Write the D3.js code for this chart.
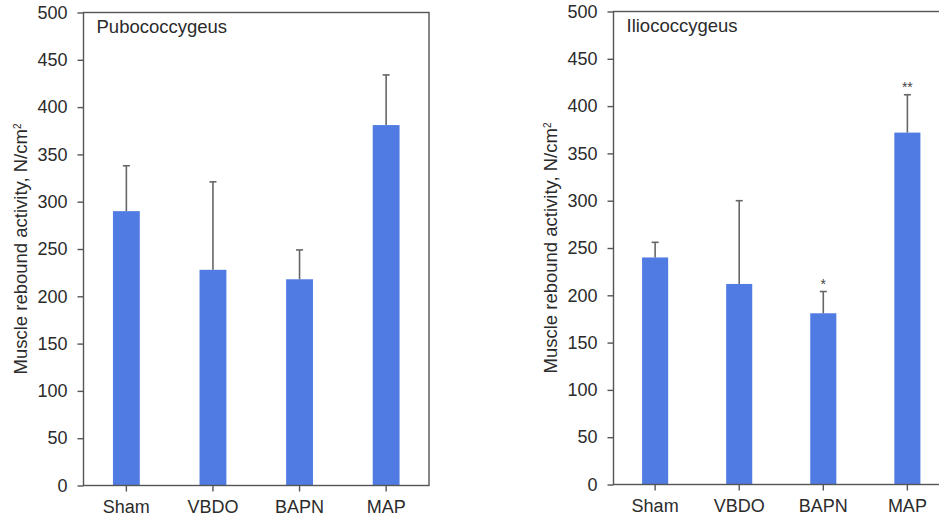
<!DOCTYPE html>
<html lang="en">
<head>
    <meta charset="utf-8">
    <title>Muscle rebound activity</title>
    <script src="https://d3js.org/d3.v7.min.js"></script>
    <style>
        body { margin: 0; background: #fff; }
        text { font-family: "Liberation Sans", Arial, Helvetica, sans-serif; fill: #2b2b2b; }
    </style>
</head>
<body>
<svg id="chart" width="939" height="525"></svg>
<script>
// data
var categories = ["Sham", "VBDO", "BAPN", "MAP"];
var pubMeans = [290, 228, 218, 381];
var pubSD = [48, 93, 31, 53];
var ilioMeans = [240, 212, 181, 372];
var ilioSD = [16, 88, 23, 40];
var ilioSig = ["", "", "*", "**"];
var yTicks = [0, 50, 100, 150, 200, 250, 300, 350, 400, 450, 500];

var svg = d3.select("#chart");
var barColor = "#4f7be3";
var axisColor = "#555";

function drawPanel(opts) {
    var width = opts.right - opts.left,
        height = opts.bottom - opts.top;

    var g = svg.append("g")
        .attr("transform", "translate(" + opts.left + "," + opts.top + ")");

    var x = d3.scaleBand()
        .domain(categories)
        .range([0, width])
        .paddingInner(0.69)
        .paddingOuter(0.34);

    var y = d3.scaleLinear()
        .domain([0, 500])
        .range([height, 0]);

    // bars
    g.selectAll(".bar")
        .data(opts.means)
        .enter().append("rect")
        .attr("class", "bar")
        .attr("x", function(d, i) { return x(categories[i]); })
        .attr("y", function(d) { return y(d); })
        .attr("width", x.bandwidth())
        .attr("height", function(d) { return height - y(d); })
        .attr("fill", barColor);

    // upper error bars
    var err = g.selectAll(".err")
        .data(opts.means)
        .enter().append("g")
        .attr("class", "err")
        .attr("stroke", "#666")
        .attr("stroke-width", 1.6);
    err.append("line")
        .attr("x1", function(d, i) { return x(categories[i]) + x.bandwidth() / 2; })
        .attr("x2", function(d, i) { return x(categories[i]) + x.bandwidth() / 2; })
        .attr("y1", function(d) { return y(d); })
        .attr("y2", function(d, i) { return y(d + opts.sd[i]); });
    err.append("line")
        .attr("x1", function(d, i) { return x(categories[i]) + x.bandwidth() / 2 - 3.5; })
        .attr("x2", function(d, i) { return x(categories[i]) + x.bandwidth() / 2 + 3.5; })
        .attr("y1", function(d, i) { return y(d + opts.sd[i]); })
        .attr("y2", function(d, i) { return y(d + opts.sd[i]); });

    // significance marks
    if (opts.sig) {
        g.selectAll(".sig")
            .data(opts.means)
            .enter().append("text")
            .attr("class", "sig")
            .attr("x", function(d, i) { return x(categories[i]) + x.bandwidth() / 2; })
            .attr("y", function(d, i) { return y(d + opts.sd[i]) - 3; })
            .attr("text-anchor", "middle")
            .style("font-size", "14px")
            .style("fill", "#444")
            .text(function(d, i) { return opts.sig[i]; });
    }

    // frame
    g.append("rect")
        .attr("width", width)
        .attr("height", height)
        .attr("fill", "none")
        .attr("stroke", axisColor)
        .attr("stroke-width", 1.4);

    var yAxis = g.append("g")
        .call(d3.axisLeft(y).tickValues(yTicks).tickSize(6).tickPadding(10).tickSizeOuter(0));
    yAxis.select(".domain").remove();
    yAxis.selectAll("line").attr("stroke", axisColor).attr("stroke-width", 1.4);
    yAxis.selectAll("text").style("font-size", "18px").style("fill", "#2b2b2b");

    var xAxis = g.append("g")
        .attr("transform", "translate(0," + height + ")")
        .call(d3.axisBottom(x).tickSize(6).tickPadding(9).tickSizeOuter(0));
    xAxis.select(".domain").remove();
    xAxis.selectAll("line").attr("stroke", axisColor).attr("stroke-width", 1.4);
    xAxis.selectAll("text").style("font-size", "18px").style("fill", "#2b2b2b");

    // panel title
    g.append("text")
        .attr("x", 13)
        .attr("y", 20)
        .style("font-size", "18.5px")
        .text(opts.title);

    // y label
    var lab = svg.append("text")
        .attr("transform", "translate(" + opts.labelX + "," + (opts.top + height / 2) + ") rotate(-90)")
        .attr("text-anchor", "middle")
        .style("font-size", "18.5px");
    lab.append("tspan").text("Muscle rebound activity, N/cm");
    lab.append("tspan").attr("dy", "-0.6em").style("font-size", "10px").text("2");
}

drawPanel({
    left: 83.5, right: 429, top: 12.5, bottom: 485.5,
    means: pubMeans, sd: pubSD, sig: null,
    title: "Pubococcygeus", labelX: 27
});

drawPanel({
    left: 613.5, right: 949, top: 11.5, bottom: 484.5,
    means: ilioMeans, sd: ilioSD, sig: ilioSig,
    title: "Iliococcygeus", labelX: 557
});
</script>
</body>
</html>
